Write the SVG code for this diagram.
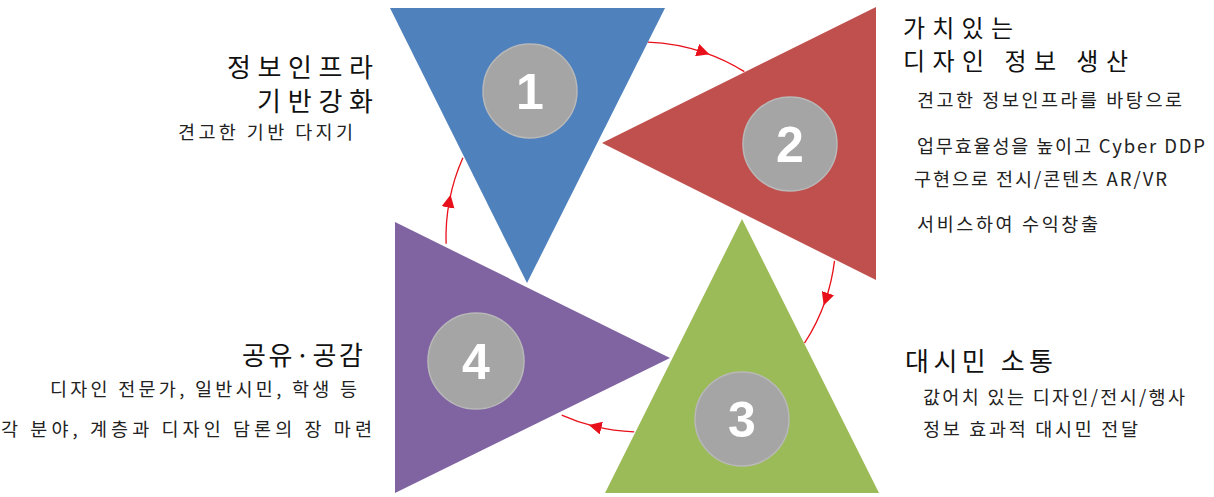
<svg xmlns="http://www.w3.org/2000/svg" width="1214" height="497" viewBox="0 0 1214 497">
<style>
.tri1{fill:#4F81BD}.tri2{fill:#C0504D}.tri3{fill:#9BBB59}.tri4{fill:#8064A2}
.badge{fill:#A5A5A5;stroke:#B8B8B8;stroke-width:1.5}
.num{font-family:"Liberation Sans",Arial,sans-serif;font-weight:bold;font-size:50px;fill:#fff;text-anchor:middle}
.title{font-family:"Noto Sans CJK KR","Noto Sans",sans-serif;font-size:26px;fill:#111}
.title2{font-family:"Noto Sans CJK KR","Noto Sans",sans-serif;font-size:24px;fill:#111}
.body{font-family:"Noto Sans CJK KR","Noto Sans",sans-serif;font-size:18.5px;fill:#222}
.conn{fill:none;stroke:#E8101A;stroke-width:1.3}
</style>
<defs>
<marker id="arr" viewBox="0 0 10 10" refX="6" refY="5" markerWidth="13" markerHeight="13" markerUnits="userSpaceOnUse" orient="auto">
<path d="M0,0 L10,5 L0,10 z" fill="#E8101A"/>
</marker>
</defs>
<rect width="1214" height="497" fill="#fff"/>
<g id="connectors">
<path class="conn" d="M647.8,42.1 A195,195 0 0 1 704.5,52.6" marker-end="url(#arr)"/>
<path class="conn" d="M704.5,52.6 A195,195 0 0 1 744.3,71.6"/>
<path class="conn" d="M834.5,260.8 A195,195 0 0 1 825.4,300.5" marker-end="url(#arr)"/>
<path class="conn" d="M825.4,300.5 A195,195 0 0 1 804.5,343.2"/>
<path class="conn" d="M634.2,431.9 A195,195 0 0 1 593.8,426.2" marker-end="url(#arr)"/>
<path class="conn" d="M593.8,426.2 A195,195 0 0 1 561.7,415.1"/>
<path class="conn" d="M446.1,243.8 A195,195 0 0 1 449.6,199.8" marker-end="url(#arr)"/>
<path class="conn" d="M449.6,199.8 A195,195 0 0 1 462.9,157.7"/>
</g>
<g id="node1">
<polygon class="tri1" points="390,8 665,8 527,283"/>
<circle class="badge" cx="530" cy="91" r="47"/>
<text class="num" x="530" y="109">1</text>
<text class="title" x="373" y="77" text-anchor="end" textLength="146">정보인프라</text>
<text class="title" x="373" y="111" text-anchor="end" textLength="116">기반강화</text>
<text class="body" x="178" y="139" textLength="175">견고한 기반 다지기</text>
</g>
<g id="node2">
<polygon class="tri2" points="602,143 876,7 876,280"/>
<circle class="badge" cx="790" cy="144" r="47"/>
<text class="num" x="790" y="162">2</text>
<text class="title2" x="903" y="37" textLength="110">가치있는</text>
<text class="title2" x="903" y="70" textLength="225">디자인 정보 생산</text>
<text class="body" x="917" y="107" textLength="265">견고한 정보인프라를 바탕으로</text>
<text class="body" x="917" y="153" textLength="288">업무효율성을 높이고 Cyber DDP</text>
<text class="body" x="914" y="186" textLength="253">구현으로 전시/콘텐츠 AR/VR</text>
<text class="body" x="917" y="231" textLength="181">서비스하여 수익창출</text>
</g>
<g id="node3">
<polygon class="tri3" points="742,219 605,493 879,493"/>
<circle class="badge" cx="742" cy="419" r="47"/>
<text class="num" x="742" y="437">3</text>
<text class="title" x="905" y="371" textLength="148">대시민 소통</text>
<text class="body" x="923" y="404" textLength="262">값어치 있는 디자인/전시/행사</text>
<text class="body" x="923" y="436" textLength="215">정보 효과적 대시민 전달</text>
</g>
<g id="node4">
<polygon class="tri4" points="395,222 395,493 670,358"/>
<circle class="badge" cx="476" cy="361" r="48"/>
<text class="num" x="476" y="379">4</text>
<text class="title" x="363" y="365" text-anchor="end" textLength="121">공유·공감</text>
<text class="body" x="50" y="396" textLength="307">디자인 전문가, 일반시민, 학생 등</text>
<text class="body" x="1" y="436" textLength="371">각 분야, 계층과 디자인 담론의 장 마련</text>
</g>
</svg>
